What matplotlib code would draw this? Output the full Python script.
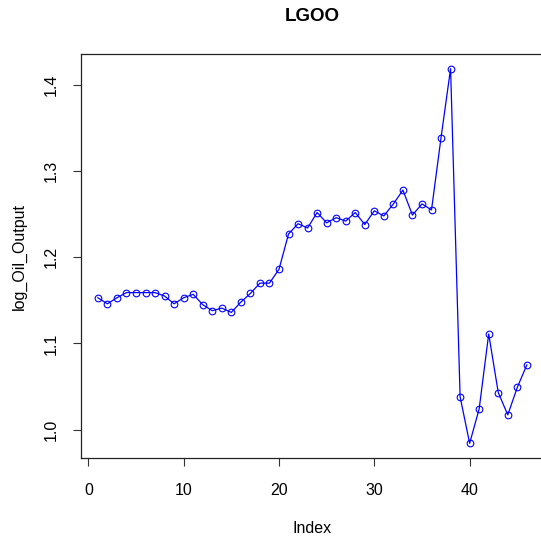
import matplotlib
matplotlib.use('Agg')
import matplotlib.pyplot as plt
import numpy as np

# log oil output series (Index 1..46)
index = np.arange(1, 47)
log_oil_output = [1.153, 1.146, 1.153, 1.159, 1.159, 1.159, 1.159, 1.155, 1.146, 1.153,
                  1.157, 1.145, 1.138, 1.141, 1.136, 1.148, 1.158, 1.170, 1.170, 1.186,
                  1.227, 1.239, 1.234, 1.252, 1.240, 1.246, 1.242, 1.252, 1.238, 1.254,
                  1.248, 1.262, 1.278, 1.249, 1.262, 1.255, 1.339, 1.419, 1.038, 0.984,
                  1.024, 1.111, 1.043, 1.017, 1.049, 1.075]
x_ticks = [0, 10, 20, 30, 40]
y_ticks = [1.0, 1.1, 1.2, 1.3, 1.4]

plt.rcParams['font.family'] = ['Liberation Sans', 'DejaVu Sans']

W, H = 541, 540
fig = plt.figure(figsize=(W / 100, H / 100), dpi=100)

# axes box in pixels (right side runs just past the image edge, as in the reference)
left, right, top, bottom = 80.7, 544, 53.7, 458.3
ax = fig.add_axes([left / W, 1 - bottom / H, (right - left) / W, (bottom - top) / H])

ax.plot(index, log_oil_output, color='blue', linewidth=0.9,
        marker='o', markersize=4.8, markerfacecolor='none', markeredgecolor='blue',
        markeredgewidth=0.8)

# R style ranges: data range extended by 4%
xr = index.max() - index.min()
ax.set_xlim(index.min() - 0.04 * xr, index.max() + 0.04 * xr)
yr = max(log_oil_output) - min(log_oil_output)
ax.set_ylim(min(log_oil_output) - 0.04 * yr, max(log_oil_output) + 0.04 * yr)

ax.set_xticks(x_ticks)
ax.set_xticklabels([str(t) for t in x_ticks])
ax.set_yticks(y_ticks)
ax.set_yticklabels(['%.1f' % t for t in y_ticks], rotation=90, va='center')
ax.tick_params(direction='out', length=6, width=0.8, colors='#333333',
               labelcolor='black', labelsize=11.5)
ax.tick_params(axis='x', pad=12)
ax.tick_params(axis='y', pad=10)
for s in ax.spines.values():
    s.set_linewidth(0.9)
    s.set_color('#222222')
ax.spines['right'].set_visible(False)

fig.text((left + right) / 2 / W, 1 - 16.5 / H, 'LGOO', ha='center', va='center',
         fontsize=13.5, fontweight='bold')
fig.text((left + right) / 2 / W, 1 - 533.3 / H, 'Index', ha='center', va='baseline',
         fontsize=11.5)
fig.text(19 / W, 1 - (top + bottom) / 2 / H, 'log_Oil_Output', ha='center', va='center',
         rotation=90, fontsize=11.5)

fig.savefig('out.png', dpi=100, facecolor='white')
